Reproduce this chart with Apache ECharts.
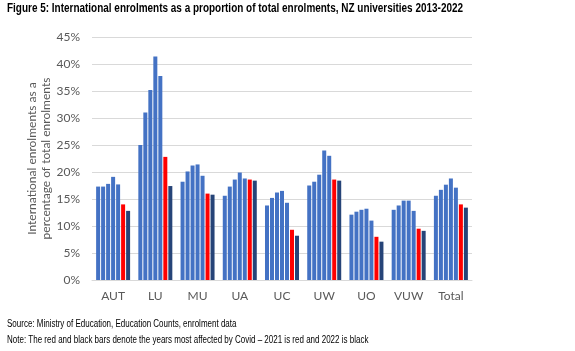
<!DOCTYPE html>
<html>
<head>
<meta charset="utf-8">
<script src="https://cdn.jsdelivr.net/npm/echarts@6/dist/echarts.min.js"></script>
<style>
	html, body { margin: 0; padding: 0; background: #fff; }
	#chart { width: 575px; height: 351px; }
</style>
</head>
<body>
<div id="chart"></div>
<script>
let categories = ['AUT', 'LU', 'MU', 'UA', 'UC', 'UW', 'UO', 'VUW', 'Total']
let years = ['2016', '2017', '2018', '2019', '2020', '2021', '2022']

// international share of enrolments, %
let y2016 = [17.3, 25.0, 18.2, 15.6, 13.8, 17.5, 12.1, 13.0, 15.6]
let y2017 = [17.3, 31.0, 20.1, 17.3, 15.2, 18.2, 12.65, 13.8, 16.7]
let y2018 = [17.8, 35.2, 21.2, 18.6, 16.2, 19.5, 13.0, 14.7, 17.65]
let y2019 = [19.1, 41.4, 21.4, 19.9, 16.5, 24.0, 13.2, 14.7, 18.8]
let y2020 = [17.7, 37.8, 19.3, 18.8, 14.3, 23.0, 11.0, 12.8, 17.1]
let y2021 = [14.0, 22.8, 16.0, 18.6, 9.3, 18.6, 8.0, 9.5, 14.0]
let y2022 = [12.8, 17.4, 15.8, 18.4, 8.2, 18.4, 7.1, 9.1, 13.4]

let yTicks = [0, 5, 10, 15, 20, 25, 30, 35, 40, 45]

let values = [y2016, y2017, y2018, y2019, y2020, y2021, y2022]
let color = ['#4472c4', '#4472c4', '#4472c4', '#4472c4', '#4472c4', '#ff0000', '#264478']

let series = []
values.forEach(function(item, index) {
	series.push({
		name: years[index],
		type: 'bar',
		barGap: '25%',
		barCategoryGap: '19.5%',
		itemStyle: {
			color: color[index]
		},
		data: item
	})
})

// Arial Narrow look: Liberation Sans squeezed horizontally
function narrowText(text, x, y, font, sx) {
	return {
		type: 'text',
		x: x,
		y: y,
		scaleX: sx,
		silent: true,
		style: {
			text: text,
			font: font,
			fill: '#000',
			verticalAlign: 'top'
		}
	}
}

var chart = echarts.init(document.getElementById('chart'))
chart.setOption({
	animation: false,
	graphic: [
		narrowText('Figure 5: International enrolments as a proportion of total enrolments, NZ universities 2013-2022', 7, 3, 'bold 12px "Liberation Sans", Arial, sans-serif', 0.83),
		narrowText('Source: Ministry of Education, Education Counts, enrolment data', 7, 319, '10px "Liberation Sans", Arial, sans-serif', 0.8),
		narrowText('Note: The red and black bars denote the years most affected by Covid \u2013 2021 is red and 2022 is black', 7, 335, '10px "Liberation Sans", Arial, sans-serif', 0.8)
	],
	grid: {
		left: 92,
		right: 103,
		top: 37,
		bottom: 71
	},
	xAxis: {
		type: 'category',
		data: categories,
		axisLine: {
			lineStyle: {
				color: '#d9d9d9'
			}
		},
		axisTick: {
			show: false
		},
		axisLabel: {
			color: '#595959',
			fontFamily: 'Lato, "Open Sans", sans-serif',
			fontSize: 12,
			margin: 10
		}
	},
	yAxis: {
		type: 'value',
		min: yTicks[0],
		max: yTicks[yTicks.length - 1],
		interval: 5,
		name: 'International enrolments as a\npercentage of total enrolments',
		nameLocation: 'middle',
		nameGap: 39,
		nameMoveOverlap: false,
		nameTextStyle: {
			color: '#595959',
			fontFamily: 'Lato, "Open Sans", sans-serif',
			fontSize: 12,
			lineHeight: 14
		},
		axisLine: {
			show: false
		},
		axisTick: {
			show: false
		},
		axisLabel: {
			color: '#595959',
			fontFamily: 'Lato, "Open Sans", sans-serif',
			fontSize: 12,
			margin: 12,
			formatter: '{value}%'
		},
		splitLine: {
			lineStyle: {
				color: '#d9d9d9'
			}
		}
	},
	series: series
})
</script>
</body>
</html>
